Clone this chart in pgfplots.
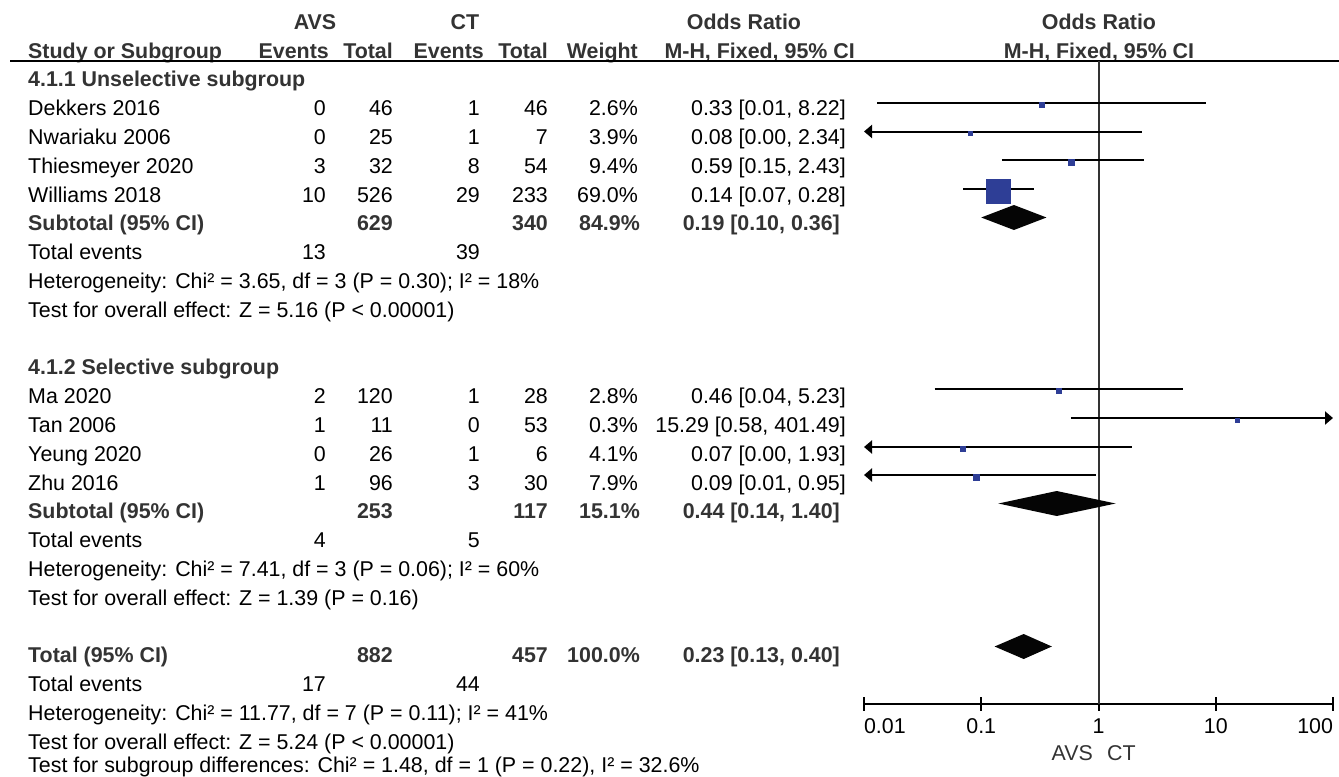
\documentclass[border=0pt]{standalone}
\usepackage{pgfplots}
\pgfplotsset{compat=1.18}
\usepackage{fontspec}
\setmainfont{Liberation Sans}
\usetikzlibrary{arrows.meta}
\definecolor{hd}{RGB}{51,51,51}
\definecolor{sq}{RGB}{46,62,150}
\definecolor{dm}{RGB}{5,5,5}
\newcommand\Lt[3]{\node[anchor=base west,inner sep=0pt] at (#1bp,{-(29.2+28.8*(#2))*1bp}) {#3};}
\newcommand\Rt[3]{\node[anchor=base east,inner sep=0pt] at (#1bp,{-(29.2+28.8*(#2))*1bp}) {#3};}
\newcommand\Ct[3]{\node[anchor=base,inner sep=0pt] at (#1bp,{-(29.2+28.8*(#2))*1bp}) {#3};}
\newcommand\B[1]{\textbf{\color{hd}#1}}
\newcommand\study[8]{\Lt{28}{#1}{#2}\Rt{326}{#1}{#3}\Rt{393}{#1}{#4}\Rt{480}{#1}{#5}\Rt{548}{#1}{#6}\Rt{638}{#1}{#7}\Rt{846}{#1}{#8}}
\newcommand\subt[6]{\Lt{28}{#1}{\B{#2}}\Rt{393}{#1}{\B{#3}}\Rt{548}{#1}{\B{#4}}\Rt{640}{#1}{\B{#5}}\Rt{840}{#1}{\B{#6}}}
\newcommand\tev[3]{\Lt{28}{#1}{Total events}\Rt{326}{#1}{#2}\Rt{480}{#1}{#3}}
\begin{document}
\begin{tikzpicture}[every node/.style={font=\fontsize{21.4bp}{25bp}\selectfont}]
\useasboundingbox (0,0) rectangle (1339bp,-777bp);
% headers
\Ct{315}{0}{\B{AVS}}
\Ct{465}{0}{\B{CT}}
\Ct{744}{0}{\B{Odds Ratio}}
\Ct{1099}{0}{\B{Odds Ratio}}
\Lt{28}{1}{\B{Study or Subgroup}}
\Rt{329}{1}{\B{Events}}
\Rt{393}{1}{\B{Total}}
\Rt{484}{1}{\B{Events}}
\Rt{548}{1}{\B{Total}}
\Rt{638}{1}{\B{Weight}}
\Rt{855}{1}{\B{M-H, Fixed, 95\% CI}}
\Ct{1099}{1}{\B{M-H, Fixed, 95\% CI}}
\draw[line width=2bp,black] (10bp,-61bp) -- (1339bp,-61bp);
% subgroup 1
\Lt{28}{2}{\B{4.1.1 Unselective subgroup}}
\study{3}{Dekkers 2016}{0}{46}{1}{46}{2.6\%}{0.33 [0.01, 8.22]}
\study{4}{Nwariaku 2006}{0}{25}{1}{7}{3.9\%}{0.08 [0.00, 2.34]}
\study{5}{Thiesmeyer 2020}{3}{32}{8}{54}{9.4\%}{0.59 [0.15, 2.43]}
\study{6}{Williams 2018}{10}{526}{29}{233}{69.0\%}{0.14 [0.07, 0.28]}
\subt{7}{Subtotal (95\% CI)}{629}{340}{84.9\%}{0.19 [0.10, 0.36]}
\tev{8}{13}{39}
\Lt{28}{9}{Heterogeneity: Chi² = 3.65, df = 3 (P = 0.30); I² = 18\%}
\Lt{28}{10}{Test for overall effect: Z = 5.16 (P < 0.00001)}
% subgroup 2
\Lt{28}{12}{\B{4.1.2 Selective subgroup}}
\study{13}{Ma 2020}{2}{120}{1}{28}{2.8\%}{0.46 [0.04, 5.23]}
\study{14}{Tan 2006}{1}{11}{0}{53}{0.3\%}{15.29 [0.58, 401.49]}
\study{15}{Yeung 2020}{0}{26}{1}{6}{4.1\%}{0.07 [0.00, 1.93]}
\study{16}{Zhu 2016}{1}{96}{3}{30}{7.9\%}{0.09 [0.01, 0.95]}
\subt{17}{Subtotal (95\% CI)}{253}{117}{15.1\%}{0.44 [0.14, 1.40]}
\tev{18}{4}{5}
\Lt{28}{19}{Heterogeneity: Chi² = 7.41, df = 3 (P = 0.06); I² = 60\%}
\Lt{28}{20}{Test for overall effect: Z = 1.39 (P = 0.16)}
% total
\subt{22}{Total (95\% CI)}{882}{457}{100.0\%}{0.23 [0.13, 0.40]}
\tev{23}{17}{44}
\Lt{28}{24}{Heterogeneity: Chi² = 11.77, df = 7 (P = 0.11); I² = 41\%}
\Lt{28}{25}{Test for overall effect: Z = 5.24 (P < 0.00001)}
\node[anchor=base west,inner sep=0pt] at (28bp,-772.5bp) {Test for subgroup differences: Chi² = 1.48, df = 1 (P = 0.22), I² = 32.6\%};
\node[anchor=base east,inner sep=0pt,text=hd] at (1093bp,-760bp) {AVS};
\node[anchor=base west,inner sep=0pt,text=hd] at (1107bp,-760bp) {CT};
\begin{axis}[
  at={(864bp,-703.5bp)}, anchor=south west,
  scale only axis, width=469bp, height=642.5bp,
  xmode=log, xmin=0.01, xmax=100, ymin=-703.5, ymax=-61,
  axis x line=bottom, axis y line=none,
  axis line style={-, line width=2bp, black},
  xtick={0.01,0.1,1,10,100},
  xticklabels={\makebox[0pt][l]{0.01},0.1,1,10,\makebox[0pt][r]{100}},
  xminorticks=false,
  xtick align=center, major tick length=14bp,
  every tick/.style={black, line width=2bp},
  xticklabel style={font=\fontsize{21.4bp}{25bp}\selectfont, inner sep=0pt, anchor=base, yshift=-23bp},
  clip=false,
]
% line of no effect
\addplot[line width=2bp, hd] coordinates {(1,-61) (1,-703.5)};
% confidence intervals
\addplot[line width=2bp, black] coordinates {(0.013,-103) (8.22,-103)};
\addplot[line width=2bp, black, {Triangle[length=8bp,width=13bp]}-] coordinates {(0.01,-131.5) (2.34,-131.5)};
\addplot[line width=2bp, black] coordinates {(0.15,-160) (2.43,-160)};
\addplot[line width=2bp, black] coordinates {(0.07,-189) (0.28,-189)};
\addplot[line width=2bp, black] coordinates {(0.04,-389) (5.23,-389)};
\addplot[line width=2bp, black, -{Triangle[length=8bp,width=13bp]}] coordinates {(0.58,-418) (100,-418)};
\addplot[line width=2bp, black, {Triangle[length=8bp,width=13bp]}-] coordinates {(0.01,-447) (1.93,-447)};
\addplot[line width=2bp, black, {Triangle[length=8bp,width=13bp]}-] coordinates {(0.01,-475) (0.95,-475)};
% point estimates (squares)
\addplot[only marks, mark=square*, sq, mark size=2.5bp] coordinates {(0.33,-105)};
\addplot[only marks, mark=square*, sq, mark size=2bp] coordinates {(0.08,-133.5)};
\addplot[only marks, mark=square*, sq, mark size=3bp] coordinates {(0.59,-162)};
\addplot[only marks, mark=square*, sq, mark size=12bp] coordinates {(0.14,-191)};
\addplot[only marks, mark=square*, sq, mark size=2.5bp] coordinates {(0.46,-391)};
\addplot[only marks, mark=square*, sq, mark size=2bp] coordinates {(15.29,-420)};
\addplot[only marks, mark=square*, sq, mark size=2.5bp] coordinates {(0.07,-449)};
\addplot[only marks, mark=square*, sq, mark size=3bp] coordinates {(0.09,-477)};
% diamonds
\addplot[fill=dm, draw=none] coordinates {(0.10,-217.5) (0.19,-205) (0.36,-217.5) (0.19,-230) (0.10,-217.5)};
\addplot[fill=dm, draw=none] coordinates {(0.14,-503.5) (0.44,-491) (1.40,-503.5) (0.44,-516) (0.14,-503.5)};
\addplot[fill=dm, draw=none] coordinates {(0.13,-646.5) (0.23,-634) (0.40,-646.5) (0.23,-659) (0.13,-646.5)};
\end{axis}
\end{tikzpicture}
\end{document}
